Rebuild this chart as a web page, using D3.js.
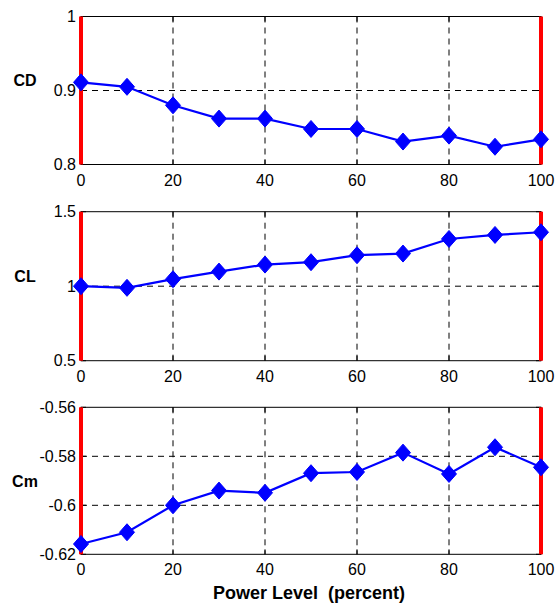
<!DOCTYPE html>
<html><head><meta charset="utf-8">
<script src="https://cdn.jsdelivr.net/npm/d3@7"></script>
<style>body{margin:0;background:#fff}svg{display:block}text{white-space:pre}</style>
</head><body>
<script>
const power = [0,10,20,30,40,50,60,70,80,90,100];
const cd = [0.911,0.905,0.880,0.862,0.862,0.848,0.848,0.831,0.839,0.824,0.834];
const cl = [1.000,0.989,1.047,1.098,1.145,1.161,1.208,1.219,1.317,1.344,1.362];
const cm = [-0.6158,-0.6110,-0.6000,-0.5940,-0.5949,-0.5869,-0.5864,-0.5785,-0.5872,-0.5763,-0.5845];
const xTicks = [0,20,40,60,80,100];
const cdTicks = [0.8,0.9,1];
const cdTickLabels = ["0.8","0.9","1"];
const clTicks = [0.5,1,1.5];
const clTickLabels = ["0.5","1","1.5"];
const cmTicks = [-0.62,-0.6,-0.58,-0.56];
const cmTickLabels = ["-0.62","-0.6","-0.58","-0.56"];
const panelNames = ["CD","CL","Cm"];
const xLabel = "Power Level  (percent)";

const W=556,H=606;
const svg=d3.select("body").append("svg").attr("width",W).attr("height",H);
const font="'Liberation Sans', Arial, sans-serif";
const x=d3.scaleLinear().domain([0,100]).range([81,541]);

const panels=[
  {name:panelNames[0],vals:cd,ticks:cdTicks,labels:cdTickLabels,top:16.5,bottom:164.5,labY:80},
  {name:panelNames[1],vals:cl,ticks:clTicks,labels:clTickLabels,top:211.7,bottom:360.7,labY:276},
  {name:panelNames[2],vals:cm,ticks:cmTicks,labels:cmTickLabels,top:407.3,bottom:554.3,labY:481}
];

panels.forEach(p=>{
  const y=d3.scaleLinear().domain(d3.extent(p.ticks)).range([p.bottom,p.top]);
  const g=svg.append("g");
  g.selectAll(".gx").data(xTicks.slice(1,-1)).enter().append("line")
    .attr("x1",d=>x(d)).attr("x2",d=>x(d)).attr("y1",p.top).attr("y2",p.bottom)
    .attr("stroke","#000").attr("stroke-width",1).attr("stroke-dasharray","6,5");
  g.selectAll(".gy").data(p.ticks.slice(1,-1)).enter().append("line")
    .attr("y1",d=>y(d)).attr("y2",d=>y(d)).attr("x1",x(0)).attr("x2",x(100))
    .attr("stroke","#000").attr("stroke-width",1).attr("stroke-dasharray","6,5");
  g.append("rect").attr("x",x(0)).attr("y",p.top).attr("width",x(100)-x(0)).attr("height",p.bottom-p.top)
    .attr("fill","none").attr("stroke","#000").attr("stroke-width",1);
  xTicks.forEach(t=>{
    g.append("line").attr("x1",x(t)).attr("x2",x(t)).attr("y1",p.bottom).attr("y2",p.bottom-5).attr("stroke","#000");
    g.append("line").attr("x1",x(t)).attr("x2",x(t)).attr("y1",p.top).attr("y2",p.top+5).attr("stroke","#000");
  });
  p.ticks.forEach(t=>{
    g.append("line").attr("x1",x(0)).attr("x2",x(0)+5).attr("y1",y(t)).attr("y2",y(t)).attr("stroke","#000");
    g.append("line").attr("x1",x(100)).attr("x2",x(100)-5).attr("y1",y(t)).attr("y2",y(t)).attr("stroke","#000");
  });
  g.selectAll(".xl").data(xTicks).enter().append("text")
    .attr("x",d=>x(d)).attr("y",p.bottom+21).attr("text-anchor","middle")
    .attr("font-family",font).attr("font-size",16).text(d=>d);
  g.selectAll(".yl").data(p.ticks).enter().append("text")
    .attr("x",76).attr("y",d=>y(d)).attr("dy","0.35em").attr("text-anchor","end")
    .attr("font-family",font).attr("font-size",16).text((d,i)=>p.labels[i]);
  g.append("text").attr("x",25).attr("y",p.labY).attr("dy","0.35em").attr("text-anchor","middle")
    .attr("font-family",font).attr("font-size",16).attr("font-weight","bold").text(p.name);
  [0,100].forEach(v=>{
    g.append("line").attr("x1",x(v)).attr("x2",x(v)).attr("y1",p.top).attr("y2",p.bottom)
      .attr("stroke","#ff0000").attr("stroke-width",4);
  });
  const line=d3.line().x((d,i)=>x(power[i])).y(d=>y(d));
  g.append("path").datum(p.vals).attr("d",line).attr("fill","none").attr("stroke","#0000ff").attr("stroke-width",2.2);
  g.selectAll(".m").data(p.vals).enter().append("path")
    .attr("transform",(d,i)=>`translate(${x(power[i])},${y(d)})`)
    .attr("d","M0,-8.5L7.5,0L0,8.5L-7.5,0Z").attr("fill","#0000ff").attr("stroke","#0000ff").attr("stroke-width",1);
});

svg.append("text").attr("x",309).attr("y",599).attr("text-anchor","middle")
  .attr("font-family",font).attr("font-size",18).attr("font-weight","bold").text(xLabel);
</script>
</body></html>
